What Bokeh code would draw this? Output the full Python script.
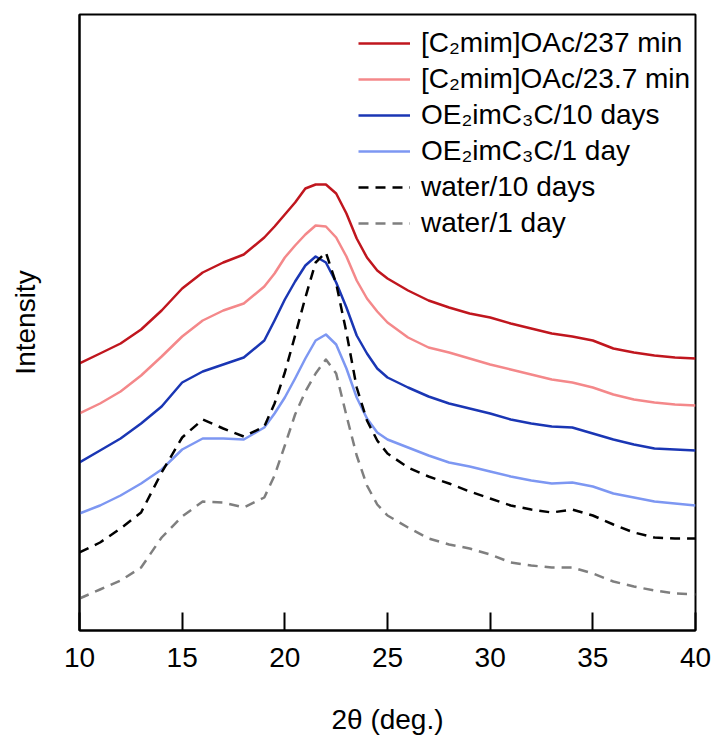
from bokeh.plotting import figure
from bokeh.models import FixedTicker, Range1d, Legend, LegendItem
from bokeh.embed import file_html
from bokeh.resources import INLINE

# ---- data (intensity in arbitrary, offset units) ----
two_theta = [10, 11, 12, 13, 14, 15, 16, 17, 18, 19,
             19.5, 20, 20.5, 21, 21.5, 22, 22.5, 23, 23.5, 24, 24.5, 25,
             26, 27, 28, 29, 30, 31, 32, 33, 34, 35, 36, 37, 38, 39, 40]

c2_237 = [267, 277, 287, 301, 320, 342, 358, 368, 376, 393,
          404, 416, 428, 442, 446, 446, 437, 417, 392, 373, 360, 352,
          340, 330, 323, 317, 313, 307, 302, 297, 294, 290, 282, 278, 275, 273, 272]

c2_23 = [217, 227, 239, 255, 274, 294, 310, 320, 327, 344,
         357, 373, 385, 396, 405, 404, 393, 374, 350, 332, 319, 308,
         293, 283, 278, 272, 266, 261, 256, 251, 248, 243, 236, 231, 228, 226, 225]

oe_10 = [168, 180, 192, 207, 224, 248, 259, 266, 273, 290,
         310, 331, 349, 365, 374, 368, 348, 323, 295, 277, 262, 253,
         243, 234, 227, 222, 217, 211, 207, 204, 203, 197, 191, 186, 182, 181, 180]

oe_1 = [117, 125, 135, 147, 161, 181, 192, 192, 191, 203,
        217, 233, 252, 272, 290, 296, 286, 262, 233, 212, 198, 191,
        183, 175, 168, 164, 159, 154, 150, 147, 148, 144, 137, 133, 129, 127, 125]

water_10 = [78, 88, 102, 118, 158, 193, 211, 202, 194, 204,
            227, 258, 295, 333, 368, 378, 347, 298, 243, 210, 190, 177,
            163, 154, 147, 139, 132, 125, 121, 118, 121, 115, 106, 98, 93, 92, 92]

water_1 = [32, 41, 50, 63, 93, 114, 129, 128, 123, 133,
           155, 185, 216, 239, 257, 271, 257, 215, 175, 145, 126, 115,
           103, 92, 86, 82, 76, 68, 65, 63, 63, 57, 49, 44, 40, 37, 36]

labels = ["[C\u2082mim]OAc/237 min", "[C\u2082mim]OAc/23.7 min",
          "OE\u2082imC\u2083C/10 days", "OE\u2082imC\u2083C/1 day",
          "water/10 days", "water/1 day"]
x_ticks = [10, 15, 20, 25, 30, 35, 40]

FONT = "Liberation Sans"

p = figure(width=714, height=737, output_backend="svg", toolbar_location=None,
           x_range=Range1d(10, 40), y_range=Range1d(0, 616),
           min_border_left=79, min_border_right=19, min_border_top=14, min_border_bottom=107)
p.frame_width = 616
p.frame_height = 616
p.grid.visible = False
p.outline_line_color = "black"
p.outline_line_width = 2
p.background_fill_color = "white"
p.border_fill_color = "white"

series = [
    (c2_237, "#c0161e", "solid"),
    (c2_23, "#f4888a", "solid"),
    (oe_10, "#1a36b4", "solid"),
    (oe_1, "#7d97f2", "solid"),
    (water_10, "black", "10 7"),
    (water_1, "#7f7f7f", "10 7"),
]
items = []
for (ys, col, dash), lab in zip(series, labels):
    r = p.line(two_theta, ys, line_color=col, line_width=2.5, line_dash=dash,
               line_join="round")
    items.append(LegendItem(label=lab, renderers=[r]))

legend = Legend(items=items, location=(275, 387))
legend.border_line_alpha = 0
legend.background_fill_alpha = 0
legend.label_text_font = FONT
legend.label_text_font_size = "28px"
legend.label_text_color = "black"
legend.glyph_width = 52
legend.glyph_height = 30
legend.label_height = 30
legend.label_standoff = 11
legend.spacing = 4
legend.padding = 4
legend.margin = 0
p.add_layout(legend)

xa = p.xaxis[0]
xa.ticker = FixedTicker(ticks=x_ticks)
xa.major_tick_in = 18
xa.major_tick_out = 0
xa.minor_tick_line_color = None
xa.axis_line_width = 2
xa.major_tick_line_width = 2
xa.major_label_text_font = FONT
xa.major_label_text_font_size = "28px"
xa.major_label_text_color = "black"
xa.major_label_standoff = 17
xa.axis_label = "2\u03b8 (deg.)"
xa.axis_label_text_font = FONT
xa.axis_label_text_font_size = "28px"
xa.axis_label_text_color = "black"
xa.axis_label_text_font_style = "normal"
xa.axis_label_standoff = 34

ya = p.yaxis[0]
ya.ticker = FixedTicker(ticks=[])
ya.major_tick_line_color = None
ya.minor_tick_line_color = None
ya.major_label_text_font_size = "0px"
ya.axis_line_width = 2
ya.axis_label = "Intensity"
ya.axis_label_text_font = FONT
ya.axis_label_text_font_size = "28px"
ya.axis_label_text_color = "black"
ya.axis_label_text_font_style = "normal"
ya.axis_label_standoff = 39

open("out.html", "w").write(file_html(p, INLINE))
